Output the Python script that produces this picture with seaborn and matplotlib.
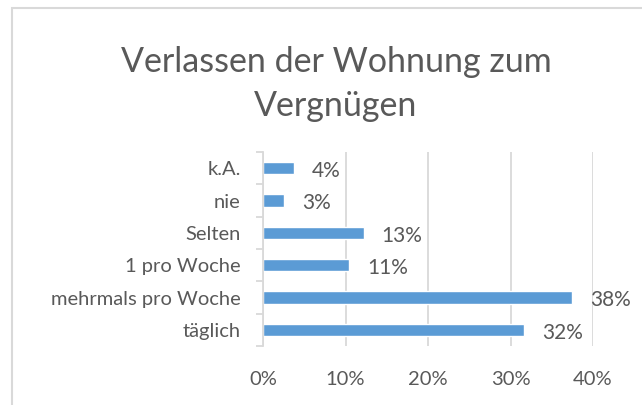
import matplotlib
matplotlib.use("Agg")
import pandas as pd
import seaborn as sns
import matplotlib.pyplot as plt
from matplotlib.patches import Rectangle

sns.set_theme(style="white")
plt.rcParams["font.family"] = ["Lato", "DejaVu Sans"]

# Data (share of respondents, %)
categories = ["k.A.", "nie", "Selten", "1 pro Woche", "mehrmals pro Woche", "täglich"]
shares = [3.7, 2.6, 12.2, 10.4, 37.5, 31.6]
share_labels = ["4%", "3%", "13%", "11%", "38%", "32%"]
xticks = [0, 10, 20, 30, 40]

df = pd.DataFrame({"category": categories, "share": shares})

text_col = "#595959"
grid_col = "#D9D9D9"
bar_col = "#5B9BD5"

W, H = 642, 405
fig = plt.figure(figsize=(W / 100, H / 100), dpi=100)
# plot area in pixels: left 263, right 593, top 152, bottom 346
ax = fig.add_axes([263 / W, 1 - 346 / H, (593 - 263) / W, (346 - 152) / H])

sns.barplot(data=df, x="share", y="category", order=categories,
            color=bar_col, saturation=1, width=0.38, ax=ax)

ax.set_xlim(0, 40)
ax.set_xticks(xticks)
ax.set_xticklabels([f"{t}%" for t in xticks])
ax.set(xlabel="", ylabel="")
ax.xaxis.grid(True, color=grid_col, linewidth=1.3)
ax.set_axisbelow(True)

for side in ["top", "right", "bottom"]:
    ax.spines[side].set_visible(False)
ax.spines["left"].set_color(grid_col)
ax.spines["left"].set_linewidth(1.3)

ax.tick_params(axis="y", labelsize=14.5, labelcolor=text_col, pad=16)
ax.tick_params(axis="x", bottom=False, labelsize=14.5, labelcolor=text_col, pad=12)
# category ticks at bar boundaries like Excel
ax.set_yticks([i for i in range(len(categories))])
ax.set_yticks([i - 0.5 for i in range(len(categories) + 1)], minor=True)
ax.tick_params(axis="y", which="major", length=0)
ax.tick_params(axis="y", which="minor", left=True, length=5, width=1.3, color=grid_col)

for i, (v, lab) in enumerate(zip(shares, share_labels)):
    ax.annotate(lab, xy=(v, i), xytext=(13, -2), textcoords="offset points",
                ha="left", va="center", fontsize=15, color=text_col)

fig.text(336 / W, 1 - 84 / H, "Verlassen der Wohnung zum\nVergnügen", ha="center",
         va="center", fontsize=24.5, color=text_col, linespacing=1.45)

# chart border (only left and top visible, the image is cropped)
fig.patches.append(Rectangle((12 / W, -0.1), 1.2, 1 - 8 / H + 0.1,
                             transform=fig.transFigure, fill=False,
                             edgecolor=grid_col, linewidth=1.5))

fig.savefig("out.png", dpi=100)
